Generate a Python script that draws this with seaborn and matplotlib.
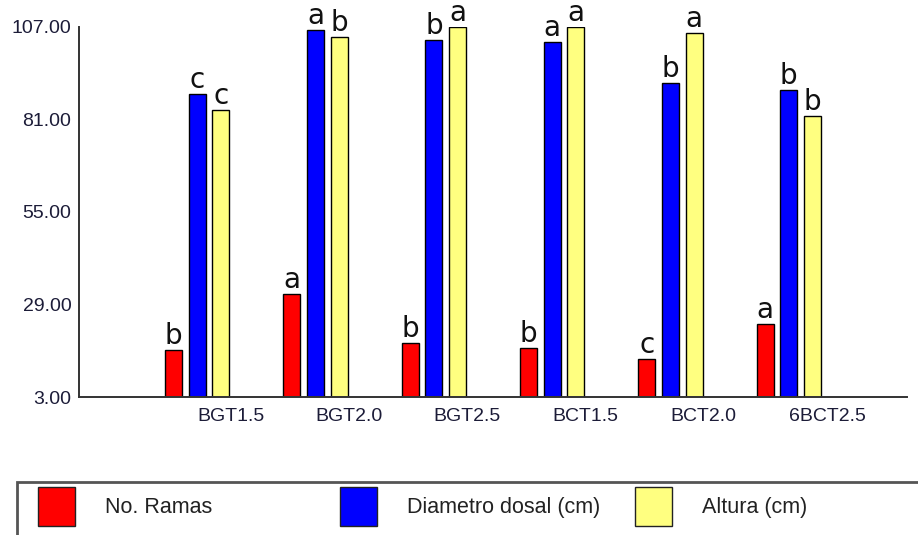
import numpy as np
import pandas as pd
import matplotlib
matplotlib.use('Agg')
import matplotlib.pyplot as plt
from matplotlib.patches import Patch, Rectangle
import seaborn as sns

# =====================================================
# DATA
# =====================================================

treatments = ['BGT1.5', 'BGT2.0', 'BGT2.5', 'BCT1.5', 'BCT2.0', '6BCT2.5']
no_ramas = [16.2, 32.0, 18.3, 16.7, 13.7, 23.6]
diametro = [88.1, 106.1, 103.4, 102.9, 91.2, 89.3]
altura = [83.6, 104.2, 106.9, 106.9, 105.4, 82.0]

letters_ramas = ['b', 'a', 'b', 'b', 'c', 'a']
letters_diam = ['c', 'a', 'b', 'a', 'b', 'b']
letters_alt = ['c', 'b', 'a', 'a', 'a', 'b']

series_names = ['No. Ramas', 'Diametro dosal (cm)', 'Altura (cm)']
series_colors = ['#FF0000', '#0000FF', '#FFFF80']
y_ticks = [3, 29, 55, 81, 107]

TEXT_COLOR = '#1c1c38'

sns.set_style('white')
plt.rcParams['font.family'] = ['Liberation Sans', 'DejaVu Sans']

# long format table for seaborn
df = pd.DataFrame({
    'tratamiento': treatments * 3,
    'valor': no_ramas + diametro + altura,
    'variable': [series_names[0]] * 6 + [series_names[1]] * 6 + [series_names[2]] * 6,
})

fig = plt.figure(figsize=(9.18, 5.35), dpi=100)
ax = fig.add_axes([79 / 918, 138 / 535, 828 / 918, 370 / 535])

sns.barplot(
    data=df, x='tratamiento', y='valor', hue='variable',
    order=treatments, hue_order=series_names, palette=series_colors,
    saturation=1, width=0.6, gap=0.28, edgecolor='black', linewidth=1,
    errorbar=None, legend=False, ax=ax,
)

# significance letters on top of each bar
for cont, lett in zip(ax.containers, [letters_ramas, letters_diam, letters_alt]):
    ax.bar_label(cont, labels=lett, padding=0, fontsize=20,
                 family='DejaVu Sans', color='#111111', clip_on=False)

ax.set_ylim(3, 107)
ax.set_xlim(-1, 6)
ax.set_yticks(y_ticks)
ax.set_yticklabels([f'{v:.2f}' for v in y_ticks])
ax.set_xticks(range(7))
ax.set_xticklabels(treatments + [''], ha='left')
ax.set_xlabel('')
ax.set_ylabel('')

for side in ['top', 'right']:
    ax.spines[side].set_visible(False)
for side in ['left', 'bottom']:
    ax.spines[side].set_color('#333333')
    ax.spines[side].set_linewidth(1.4)

ax.tick_params(axis='both', direction='out', length=5, width=1.2,
               color='#333333', labelcolor=TEXT_COLOR, labelsize=14)
ax.tick_params(axis='y', pad=0.5)
ax.tick_params(axis='x', pad=3)
ax.grid(False)

# legend box along the bottom edge
fig.add_artist(Rectangle((17 / 918, -0.05), 1.0, 0.149, transform=fig.transFigure,
                         fill=False, edgecolor='#555555', linewidth=2))

legend_x = [38 / 918, 340 / 918, 635 / 918]
for name, col, lx in zip(series_names, series_colors, legend_x):
    fig.legend(handles=[Patch(facecolor=col, edgecolor='#222222', linewidth=1)],
               labels=[name], loc='center left', bbox_to_anchor=(lx, 0.054),
               frameon=False, fontsize=15.5, handlelength=1.7, handleheight=2.4,
               handletextpad=1.4, borderpad=0, borderaxespad=0,
               labelcolor='#222222')

fig.savefig('out.png', dpi=100)
